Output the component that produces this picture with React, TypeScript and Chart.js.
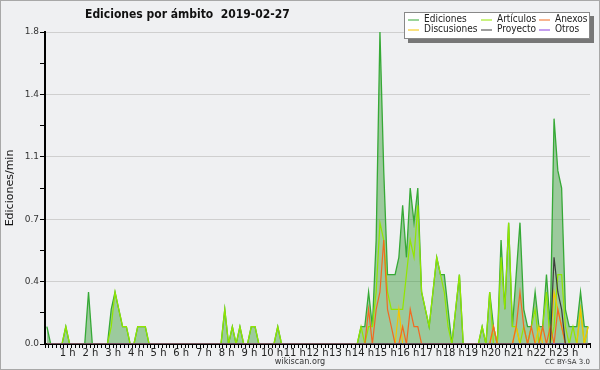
import React, { useEffect, useRef } from "react";
import { Chart, registerables } from "chart.js";

Chart.register(...registerables);

// 10-minute bins over the day (144 values), edits per minute
const EDICIONES = [
  0.1, 0, 0, 0, 0, 0.1,
  0, 0, 0, 0, 0, 0.3,
  0, 0, 0, 0, 0, 0.2,
  0.3, 0.2, 0.1, 0.1, 0, 0,
  0.1, 0.1, 0.1, 0, 0, 0,
  0, 0, 0, 0, 0, 0,
  0, 0, 0, 0, 0, 0,
  0, 0, 0, 0, 0, 0.2,
  0, 0.1, 0, 0.1, 0, 0,
  0.1, 0.1, 0, 0, 0, 0,
  0, 0.1, 0, 0, 0, 0,
  0, 0, 0, 0, 0, 0,
  0, 0, 0, 0, 0, 0,
  0, 0, 0, 0, 0, 0.1,
  0.1, 0.3, 0.1, 0.6, 1.8, 1.0,
  0.4, 0.4, 0.4, 0.5, 0.8, 0.5,
  0.9, 0.7, 0.9, 0.3, 0.2, 0.1,
  0.3, 0.5, 0.4, 0.4, 0.2, 0,
  0.2, 0.4, 0, 0, 0, 0,
  0, 0.1, 0, 0.3, 0.1, 0,
  0.6, 0.2, 0.7, 0.1, 0.4, 0.7,
  0.2, 0.1, 0.1, 0.3, 0.1, 0.1,
  0.4, 0.1, 1.3, 1.0, 0.9, 0.2,
  0.1, 0.1, 0.1, 0.3, 0.1, 0.1,
];

const ARTICULOS = [
  0, 0, 0, 0, 0, 0.1,
  0, 0, 0, 0, 0, 0,
  0, 0, 0, 0, 0, 0.1,
  0.3, 0.2, 0.1, 0.1, 0, 0,
  0.1, 0.1, 0.1, 0, 0, 0,
  0, 0, 0, 0, 0, 0,
  0, 0, 0, 0, 0, 0,
  0, 0, 0, 0, 0, 0.2,
  0, 0.1, 0, 0.1, 0, 0,
  0.1, 0.1, 0, 0, 0, 0,
  0, 0.1, 0, 0, 0, 0,
  0, 0, 0, 0, 0, 0,
  0, 0, 0, 0, 0, 0,
  0, 0, 0, 0, 0, 0.1,
  0, 0.1, 0.1, 0.3, 0.7, 0.6,
  0.3, 0.2, 0.2, 0.2, 0.2, 0.4,
  0.6, 0.5, 0.8, 0.3, 0.2, 0.1,
  0.3, 0.5, 0.4, 0.3, 0.1, 0,
  0.2, 0.4, 0, 0, 0, 0,
  0, 0.1, 0, 0.3, 0, 0,
  0.5, 0.2, 0.7, 0.1, 0.1, 0,
  0.1, 0, 0.1, 0.2, 0, 0.1,
  0.3, 0, 0.1, 0.4, 0.4, 0.1,
  0, 0.1, 0, 0.2, 0, 0.1,
];

const ANEXOS = [
  0, 0, 0, 0, 0, 0,
  0, 0, 0, 0, 0, 0,
  0, 0, 0, 0, 0, 0,
  0, 0, 0, 0, 0, 0,
  0, 0, 0, 0, 0, 0,
  0, 0, 0, 0, 0, 0,
  0, 0, 0, 0, 0, 0,
  0, 0, 0, 0, 0, 0,
  0, 0, 0, 0, 0, 0,
  0, 0, 0, 0, 0, 0,
  0, 0, 0, 0, 0, 0,
  0, 0, 0, 0, 0, 0,
  0, 0, 0, 0, 0, 0,
  0, 0, 0, 0, 0, 0,
  0, 0.2, 0, 0.2, 0.3, 0.6,
  0.2, 0.1, 0, 0, 0.1, 0,
  0.2, 0.1, 0.1, 0, 0, 0,
  0, 0, 0, 0, 0, 0,
  0, 0, 0, 0, 0, 0,
  0, 0, 0, 0, 0.1, 0,
  0, 0, 0, 0, 0.1, 0.3,
  0.1, 0, 0.1, 0, 0, 0.1,
  0, 0.1, 0, 0.2, 0.1, 0,
  0, 0, 0, 0, 0, 0,
];

const DISCUSIONES = [
  0, 0, 0, 0, 0, 0,
  0, 0, 0, 0, 0, 0,
  0, 0, 0, 0, 0, 0,
  0, 0, 0, 0, 0, 0,
  0, 0, 0, 0, 0, 0,
  0, 0, 0, 0, 0, 0,
  0, 0, 0, 0, 0, 0,
  0, 0, 0, 0, 0, 0,
  0, 0, 0, 0, 0, 0,
  0, 0, 0, 0, 0, 0,
  0, 0, 0, 0, 0, 0,
  0, 0, 0, 0, 0, 0,
  0, 0, 0, 0, 0, 0,
  0, 0, 0, 0, 0, 0,
  0, 0, 0, 0, 0, 0,
  0, 0, 0, 0.2, 0, 0,
  0, 0, 0, 0, 0, 0,
  0, 0, 0, 0, 0, 0,
  0, 0, 0, 0, 0, 0,
  0, 0, 0, 0, 0.1, 0,
  0, 0, 0, 0, 0.1, 0,
  0, 0, 0, 0, 0.1, 0,
  0, 0, 0.3, 0.2, 0.1, 0,
  0, 0, 0, 0.2, 0, 0.1,
];

const PROYECTO = [
  0, 0, 0, 0, 0, 0,
  0, 0, 0, 0, 0, 0,
  0, 0, 0, 0, 0, 0,
  0, 0, 0, 0, 0, 0,
  0, 0, 0, 0, 0, 0,
  0, 0, 0, 0, 0, 0,
  0, 0, 0, 0, 0, 0,
  0, 0, 0, 0, 0, 0,
  0, 0, 0, 0, 0, 0,
  0, 0, 0, 0, 0, 0,
  0, 0, 0, 0, 0, 0,
  0, 0, 0, 0, 0, 0,
  0, 0, 0, 0, 0, 0,
  0, 0, 0, 0, 0, 0,
  0, 0, 0, 0, 0, 0,
  0, 0, 0, 0, 0, 0,
  0, 0, 0, 0, 0, 0,
  0, 0, 0, 0, 0, 0,
  0, 0, 0, 0, 0, 0,
  0, 0, 0, 0, 0, 0,
  0, 0, 0, 0, 0, 0,
  0, 0, 0, 0, 0, 0,
  0, 0, 0.5, 0.3, 0.2, 0,
  0, 0, 0, 0, 0, 0,
];

const OTROS = new Array(144).fill(0);

const HOUR_LABELS = [
  "", "1 h", "2 h", "3 h", "4 h", "5 h", "6 h", "7 h", "8 h", "9 h", "10 h", "11 h",
  "12 h", "13 h", "14 h", "15 h", "16 h", "17 h", "18 h", "19 h", "20 h", "21 h", "22 h", "23 h",
];
const Y_LABELS = ["0.0", "0.4", "0.7", "1.1", "1.4", "1.8"];

const TITLE = "Ediciones por ámbito  2019-02-27";
const Y_TITLE = "Ediciones/min";

const SERIES = [
  { label: "Ediciones", data: EDICIONES, color: "#36a936" },
  { label: "Discusiones", data: DISCUSIONES, color: "#f5c400" },
  { label: "Artículos", data: ARTICULOS, color: "#93e600" },
  { label: "Proyecto", data: PROYECTO, color: "#3c3c3c" },
  { label: "Anexos", data: ANEXOS, color: "#f26a21" },
  { label: "Otros", data: OTROS, color: "#8a3fe0" },
];

const BG = "#eff0f2";
const FONT = "'DejaVu Sans', sans-serif";
const FONT_C = "'DejaVu Sans Condensed', 'DejaVu Sans', sans-serif";

const decorPlugin = {
  id: "decor",
  beforeDraw(chart: any) {
    const { ctx, width, height } = chart;
    ctx.save();
    ctx.fillStyle = BG;
    ctx.fillRect(0, 0, width, height);
    ctx.restore();
  },
  afterDraw(chart: any) {
    const { ctx, width, height } = chart;
    ctx.save();
    // title
    ctx.fillStyle = "#111";
    ctx.font = "bold 12px " + FONT_C;
    ctx.textBaseline = "middle";
    ctx.textAlign = "left";
    ctx.fillText(TITLE, 85, 15);

    // legend box
    const lx = 404, ly = 12, lw = 186, lh = 27;
    ctx.fillStyle = "#777";
    ctx.fillRect(lx + 4, ly + 4, lw, lh);
    ctx.fillStyle = "#fff";
    ctx.fillRect(lx, ly, lw, lh);
    ctx.strokeStyle = "#888";
    ctx.lineWidth = 1;
    ctx.strokeRect(lx + 0.5, ly + 0.5, lw - 1, lh - 1);
    const cols = [408, 481, 539];
    const rows = [19.5, 29.5];
    ctx.font = "10px " + FONT_C;
    ctx.textBaseline = "middle";
    SERIES.forEach((s, k) => {
      const cx = cols[Math.floor(k / 2)];
      const cy = rows[k % 2];
      ctx.strokeStyle = s.color;
      ctx.lineWidth = 1;
      ctx.beginPath();
      ctx.moveTo(cx, cy + 0.5);
      ctx.lineTo(cx + 11, cy + 0.5);
      ctx.stroke();
      ctx.fillStyle = "#222";
      ctx.fillText(s.label, cx + 16, cy);
    });

    // footer
    ctx.fillStyle = "#333";
    ctx.font = "9px " + FONT_C;
    ctx.textAlign = "center";
    ctx.fillText("wikiscan.org", 300, 362);
    ctx.font = "7px " + FONT;
    ctx.textAlign = "right";
    ctx.fillText("CC BY-SA 3.0", 590, 362);

    // frame
    ctx.strokeStyle = "#a8a8a8";
    ctx.lineWidth = 1;
    ctx.strokeRect(0.5, 0.5, width - 1, height - 1);
    ctx.restore();
  },
};

export default function App() {
  const ref = useRef<HTMLCanvasElement | null>(null);

  useEffect(() => {
    document.body.style.margin = "0";
    const canvas = ref.current!;
    const orders = [10, 8, 9, 5, 7, 6];
    const datasets = SERIES.map((s, k) => ({
      label: s.label,
      data: s.data.map((v, i) => ({ x: i + 0.5, y: v })),
      borderColor: s.color,
      backgroundColor: k === 0 ? "rgba(40,150,40,0.42)" : s.color,
      borderWidth: k === 0 ? 1.3 : 1.2,
      fill: k === 0 ? "origin" : false,
      pointRadius: 0,
      tension: 0,
      order: orders[k],
    }));

    const chart = new Chart(canvas, {
      type: "line",
      data: { datasets },
      plugins: [decorPlugin],
      options: {
        animation: false,
        responsive: false,
        devicePixelRatio: 1,
        layout: { padding: { top: 32, right: 10, left: 0, bottom: 0 } },
        plugins: { legend: { display: false }, tooltip: { enabled: false }, title: { display: false } },
        scales: {
          x: {
            type: "linear",
            min: 0,
            max: 144,
            afterBuildTicks: (s: any) => {
              s.ticks = Array.from({ length: 145 }, (_, k) => ({ value: k }));
            },
            afterFit: (s: any) => {
              s.height = 26;
            },
            ticks: {
              autoSkip: false,
              maxRotation: 0,
              padding: -1,
              color: "#222",
              font: { family: FONT, size: 10 },
              callback: (v: any) => (v % 6 === 0 ? HOUR_LABELS[v / 6] ?? "" : ""),
            },
            grid: { drawOnChartArea: false, drawTicks: true, tickLength: 4, tickColor: "#000", tickWidth: 1 },
            border: { display: true, color: "#000", width: 2 },
          },
          y: {
            min: 0,
            max: 1.8,
            afterBuildTicks: (s: any) => {
              s.ticks = Array.from({ length: 11 }, (_, k) => ({ value: k * 0.18 }));
            },
            afterFit: (s: any) => {
              s.width = 45;
            },
            ticks: {
              padding: 1,
              color: "#333",
              font: { family: FONT, size: 9 },
              callback: (_v: any, idx: number) => (idx % 2 === 0 ? Y_LABELS[idx / 2] : ""),
            },
            grid: {
              color: (c: any) => (c.index % 2 === 0 && c.index > 0 ? "#cfcfcf" : "rgba(0,0,0,0)"),
              lineWidth: 1,
              drawTicks: true,
              tickLength: 5,
              tickColor: "#000",
            },
            border: { display: true, color: "#000", width: 2 },
            title: {
              display: true,
              text: Y_TITLE,
              color: "#111",
              font: { family: FONT, size: 11 },
              padding: { top: 4, bottom: 0 },
            },
          },
        },
      },
    } as any);
    return () => chart.destroy();
  }, []);

  return <canvas ref={ref} width={600} height={370} style={{ display: "block", width: 600, height: 370 }} />;
}
